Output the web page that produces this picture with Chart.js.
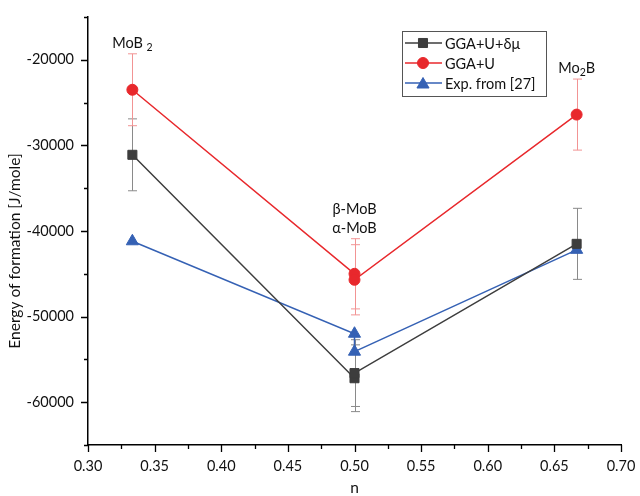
<!DOCTYPE html>
<html>
<head>
<meta charset="utf-8">
<script src="https://cdn.jsdelivr.net/npm/chart.js@4.4.0/dist/chart.umd.min.js"></script>
<style>
  html, body { margin: 0; padding: 0; background: #fff; }
  #wrap { width: 640px; height: 496px; position: relative; }
</style>
</head>
<body>
<div id="wrap"><canvas id="chart"></canvas></div>
<script>
// data
const seriesNames = ['GGA+U+δμ', 'GGA+U', 'Exp. from [27]'];
const nValues = [0.3333, 0.5, 0.5, 0.6667];
const ggaUDmu = [-31100, -57200, -56600, -41500];
const ggaUDmuErr = [4200, 3900, 3900, 4150];
const ggaU = [-23500, -45000, -45700, -26400];
const ggaUErr = [4200, 4100, 4100, 4150];
const expRef = [-41200, -52000, -54100, -42200];
const xTickStep = 0.05;
const yTickStep = 10000;

// phase names placed in data units
const phaseLabels = [
  { main: 'MoB', sub: '2', tail: '', x: 0.3333, y: -18600 },
  { main: 'β-MoB', sub: '', tail: '', x: 0.5, y: -38000 },
  { main: 'α-MoB', sub: '', tail: '', x: 0.5, y: -40200 },
  { main: 'Mo', sub: '2', tail: 'B', x: 0.6667, y: -21500 }
];

const FONT = 'Lato, "Open Sans", sans-serif';
const colors = ['#3d3d3d', '#e8282c', '#3561b4'];
const errColors = ['#8a8a8a', '#f29494', null];
const styles = ['rect', 'circle', 'triangle'];
const radii = [6.4, 5.5, 7];
const errors = [ggaUDmuErr, ggaUErr, null];

const toPoints = vals => vals.map((v, i) => ({ x: nValues[i], y: v }));

const datasets = [ggaUDmu, ggaU, expRef].map((vals, k) => ({
  label: seriesNames[k],
  data: toPoints(vals),
  borderColor: colors[k],
  backgroundColor: colors[k],
  borderWidth: 1.5,
  pointStyle: styles[k],
  pointRadius: radii[k],
  pointBorderWidth: 1,
  pointBorderColor: colors[k],
  pointBackgroundColor: colors[k],
  showLine: true,
  tension: 0
}));

function drawLabel(ctx, lab, px, py) {
  ctx.font = '14.5px ' + FONT;
  const w1 = ctx.measureText(lab.main + (lab.sub && !lab.tail ? ' ' : '')).width;
  ctx.font = '10.5px ' + FONT;
  const w2 = lab.sub ? ctx.measureText(lab.sub).width : 0;
  ctx.font = '14.5px ' + FONT;
  const w3 = lab.tail ? ctx.measureText(lab.tail).width : 0;
  let x = px - (w1 + w2 + w3) / 2;
  ctx.textAlign = 'left';
  ctx.textBaseline = 'alphabetic';
  ctx.fillText(lab.main, x, py);
  x += w1;
  if (lab.sub) {
    ctx.font = '10.5px ' + FONT;
    ctx.fillText(lab.sub, x, py + 3);
    x += w2;
  }
  if (lab.tail) {
    ctx.font = '14.5px ' + FONT;
    ctx.fillText(lab.tail, x, py);
  }
}

const decorPlugin = {
  id: 'decor',
  beforeDatasetsDraw(chart) {
    // error bars behind markers
    const ctx = chart.ctx;
    const xs = chart.scales.x, ys = chart.scales.y;
    ctx.save();
    ctx.lineWidth = 1;
    errors.forEach((err, k) => {
      if (!err) return;
      const vals = chart.data.datasets[k].data;
      ctx.strokeStyle = errColors[k];
      vals.forEach((p, i) => {
        const px = Math.round(xs.getPixelForValue(p.x)) + 0.5;
        const yt = ys.getPixelForValue(p.y + err[i]);
        const yb = ys.getPixelForValue(p.y - err[i]);
        ctx.beginPath();
        ctx.moveTo(px, yt); ctx.lineTo(px, yb);
        ctx.moveTo(px - 4.5, yt); ctx.lineTo(px + 4.5, yt);
        ctx.moveTo(px - 4.5, yb); ctx.lineTo(px + 4.5, yb);
        ctx.stroke();
      });
    });
    ctx.restore();
  },
  afterDraw(chart) {
    const ctx = chart.ctx;
    const xs = chart.scales.x, ys = chart.scales.y;
    const area = chart.chartArea;
    ctx.save();
    // tick marks, major and minor
    ctx.strokeStyle = '#000';
    ctx.lineWidth = 1.3;
    ctx.beginPath();
    for (let v = ys.min; v <= ys.max + 1; v += yTickStep / 2) {
      const py = Math.round(ys.getPixelForValue(v)) + 0.5;
      const len = Math.abs(v % yTickStep) < 1 ? 7 : 4;
      ctx.moveTo(area.left, py); ctx.lineTo(area.left - len, py);
    }
    for (let i = 0; i <= Math.round((xs.max - xs.min) / (xTickStep / 2)); i++) {
      const v = xs.min + i * xTickStep / 2;
      const px = Math.round(xs.getPixelForValue(v)) + 0.5;
      const len = i % 2 === 0 ? 7 : 4;
      ctx.moveTo(px, area.bottom); ctx.lineTo(px, area.bottom + len);
    }
    ctx.stroke();

    // axis titles
    ctx.fillStyle = '#111';
    ctx.font = '15.5px ' + FONT;
    ctx.textAlign = 'center';
    ctx.textBaseline = 'middle';
    ctx.fillText('n', (area.left + area.right) / 2, 488);
    ctx.save();
    ctx.translate(15, 251);
    ctx.rotate(-Math.PI / 2);
    ctx.fillText('Energy of formation [J/mole]', 0, 0);
    ctx.restore();

    // phase names
    ctx.fillStyle = '#111';
    phaseLabels.forEach(lab => {
      drawLabel(ctx, lab, xs.getPixelForValue(lab.x), ys.getPixelForValue(lab.y));
    });

    // legend box
    const lx = 402, ly = 31, lw = 144, lh = 65;
    ctx.fillStyle = '#fff';
    ctx.fillRect(lx, ly, lw, lh);
    ctx.strokeStyle = '#555';
    ctx.lineWidth = 1;
    ctx.strokeRect(lx + 0.5, ly + 0.5, lw, lh);
    chart.data.datasets.forEach((ds, k) => {
      const ry = ly + 12 + k * 20;
      ctx.strokeStyle = ds.borderColor;
      ctx.lineWidth = 1.5;
      ctx.beginPath();
      ctx.moveTo(lx + 3, ry); ctx.lineTo(lx + 40, ry);
      ctx.stroke();
      ctx.fillStyle = ds.backgroundColor;
      ctx.lineWidth = 1;
      Chart.helpers.drawPoint(ctx, {
        pointStyle: ds.pointStyle, radius: ds.pointRadius, rotation: 0, borderWidth: 1
      }, lx + 21, ry + (ds.pointStyle === 'triangle' ? 1.5 : 0));
      ctx.fillStyle = '#111';
      ctx.font = '14.5px ' + FONT;
      ctx.textAlign = 'left';
      ctx.textBaseline = 'middle';
      ctx.fillText(ds.label, lx + 43, ry + 1);
    });
    ctx.restore();
  }
};

new Chart(document.getElementById('chart'), {
  type: 'line',
  data: { datasets },
  plugins: [decorPlugin],
  options: {
    responsive: true,
    maintainAspectRatio: false,
    animation: false,
    layout: { padding: { top: 17, right: 19, left: 0, bottom: 0 } },
    plugins: { legend: { display: false }, tooltip: { enabled: false } },
    scales: {
      x: {
        type: 'linear',
        min: 0.3,
        max: 0.7,
        grid: { display: false, drawTicks: false },
        border: { display: true, color: '#000', width: 1.5 },
        ticks: {
          stepSize: xTickStep,
          padding: 13,
          color: '#111',
          font: { family: FONT, size: 14.5 },
          maxRotation: 0,
          callback: v => Number(v).toFixed(2)
        },
        afterFit: s => {
          s.height = 51;
          s.paddingLeft = 0; s.paddingRight = 0;
        }
      },
      y: {
        type: 'linear',
        min: -65000,
        max: -15000,
        grid: { display: false, drawTicks: false },
        border: { display: true, color: '#000', width: 1.5 },
        ticks: {
          stepSize: yTickStep / 2,
          padding: 14,
          color: '#111',
          font: { family: FONT, size: 14.5 },
          callback: v => (Math.abs(v % yTickStep) < 1 ? String(v) : '')
        },
        afterFit: s => {
          s.width = 88;
          s.paddingTop = 0; s.paddingBottom = 0;
        }
      }
    }
  }
});
</script>
</body>
</html>
